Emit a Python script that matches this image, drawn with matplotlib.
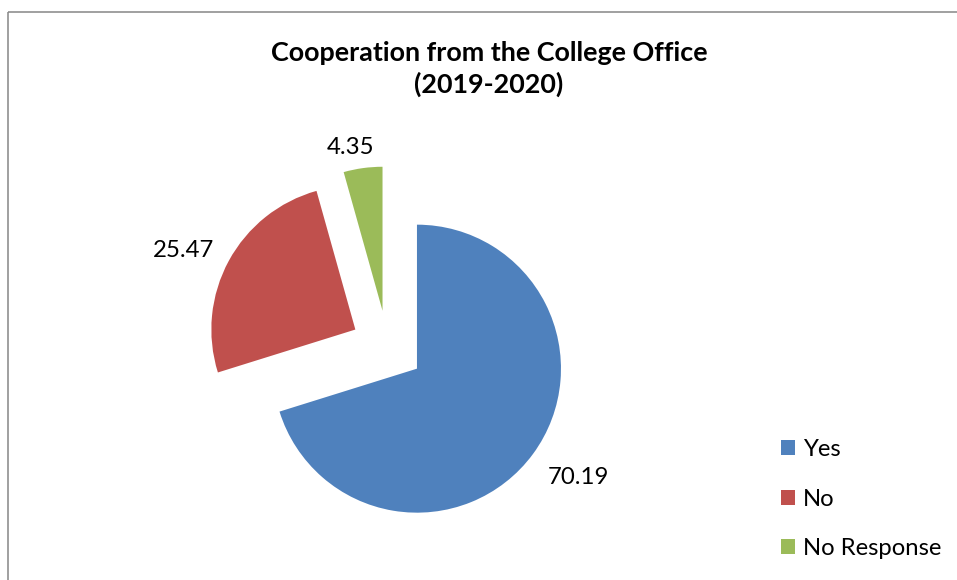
import matplotlib
matplotlib.use('Agg')
import matplotlib.pyplot as plt
import numpy as np

# chart data
categories = ['Yes', 'No', 'No Response']
values = [70.19, 25.47, 4.35]
colors = ['#4F81BD', '#C0504D', '#9BBB59']
title = 'Cooperation from the College Office\n(2019-2020)'

plt.rcParams['font.family'] = ['Lato', 'DejaVu Sans']

W, H = 957, 580
R = 144
fig = plt.figure(figsize=(W / 100, H / 100), dpi=100)
ax = fig.add_axes([0, 0, 1, 1])

# pie, all slices pulled out a bit like the Excel chart
# (explode is in data units here since radius is not 1)
wedges, _ = ax.pie(values, colors=colors, startangle=90, counterclock=False,
                   center=(387.5, H - 347), radius=R,
                   explode=[0.254 * R] * len(values),
                   wedgeprops=dict(linewidth=0), frame=True)
ax.set_xlim(0, W)
ax.set_ylim(0, H)
ax.set_aspect('equal')
ax.axis('off')

# value labels outside each slice
dist = [1.34, 1.323, 1.175]
for w, v, f in zip(wedges, values, dist):
    ang = np.deg2rad((w.theta1 + w.theta2) / 2 + 3)
    cx, cy = w.center
    ax.text(cx + f * w.r * np.cos(ang), cy + f * w.r * np.sin(ang) - 3, '%.2f' % v,
            ha='center', va='center', fontsize=17.3, color='black')

ax.text(489, H - 69, title, ha='center', va='center', fontsize=19.4,
        fontweight='bold', linespacing=1.32)

# chart area border (cropped at right/bottom)
ax.plot([8, 8], [0, H - 12], color='#868686', lw=1.1, solid_capstyle='butt')
ax.plot([8, W], [H - 12, H - 12], color='#868686', lw=1.1, solid_capstyle='butt')

leg = ax.legend(wedges, categories, loc='upper left', frameon=False,
                bbox_to_anchor=(781 / W, 1 - 439 / H), bbox_transform=fig.transFigure,
                fontsize=17.2, handlelength=0.6, handleheight=0.6,
                handletextpad=0.32, labelspacing=1.2, borderpad=0, borderaxespad=0)

fig.savefig('out.png', dpi=100)
